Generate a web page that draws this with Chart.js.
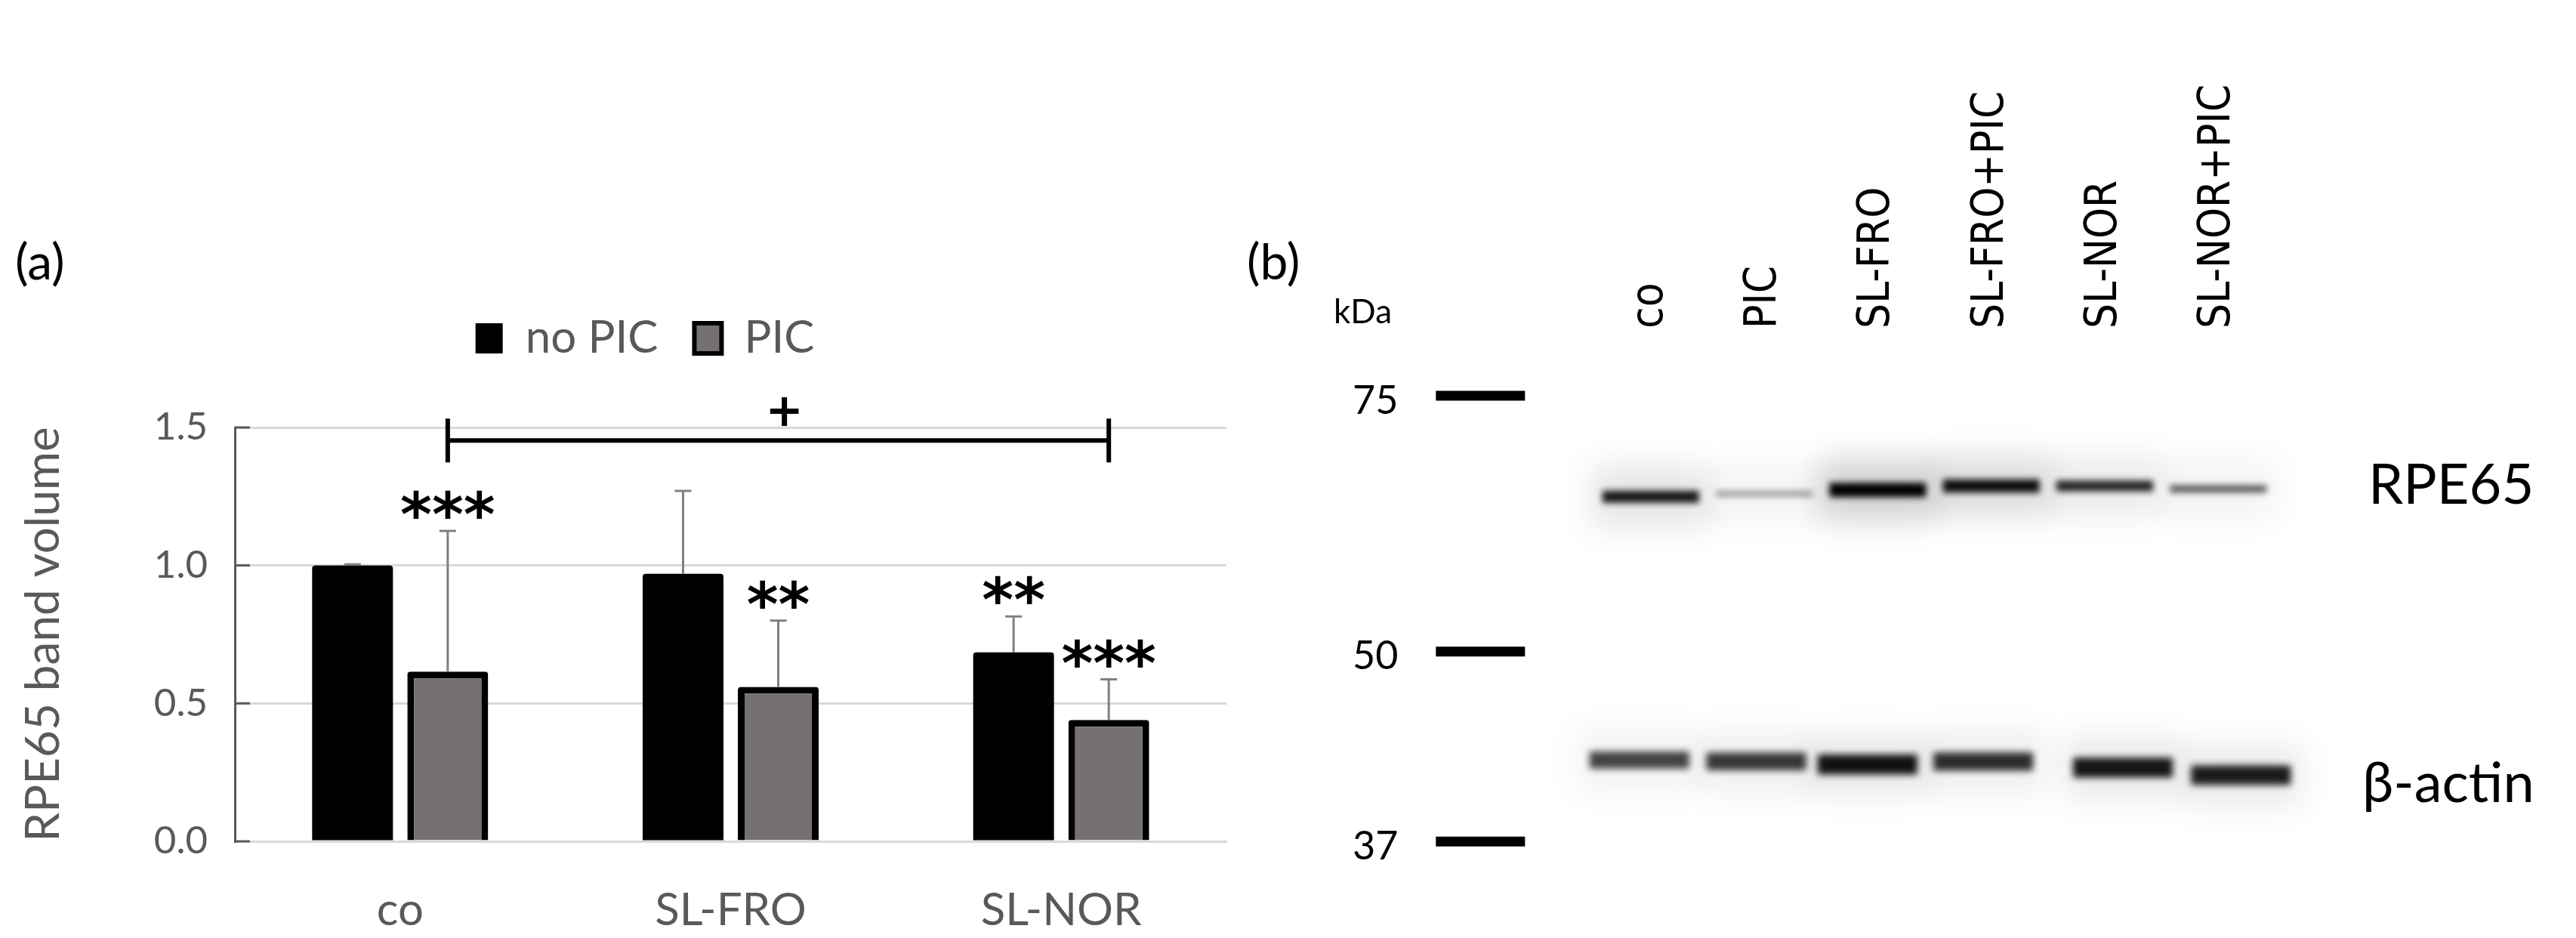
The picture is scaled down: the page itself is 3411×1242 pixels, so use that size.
<!DOCTYPE html>
<html>
<head>
<meta charset="utf-8">
<script src="https://cdn.jsdelivr.net/npm/chart.js@4.4.1/dist/chart.umd.min.js"></script>
<style>
  html, body { margin: 0; padding: 0; background: #fff; }
  body { width: 3411px; height: 1242px; position: relative; overflow: hidden; font-family: Lato, sans-serif; }
  .wrap { position: absolute; top: 0; height: 1242px; }
  .lbl { position: absolute; line-height: 1; white-space: nowrap; color: #000; }
</style>
</head>
<body>
<div class="wrap" style="left:0;width:1700px"><canvas id="chartA"></canvas></div>
<div class="wrap" style="left:1700px;width:1711px"><canvas id="chartB"></canvas></div>

<div class="lbl" style="left:20px;top:312px;font-size:66px">(a)</div>
<div class="lbl" style="left:1651px;top:312px;font-size:66px">(b)</div>
<div class="lbl" style="left:1766px;top:389px;font-size:44px">kDa</div>
<div class="lbl" style="left:3136px;top:602px;font-size:74px">RPE65</div>
<div class="lbl" style="left:3128px;top:997px;font-size:74px">β-actin</div>

<script>
// (a) band volume, mean and upper SD
var groups = ['co', 'SL-FRO', 'SL-NOR'];
var noPic = [1.0, 0.97, 0.685];
var noPicSd = [0.004, 0.30, 0.13];
var pic = [0.615, 0.56, 0.44];
var picSd = [0.51, 0.24, 0.147];
var noPicSig = ['', '', '**'];
var picSig = ['***', '**', '***'];
var yTicks = [0, 0.5, 1.0, 1.5];
var bracketLevel = 1.453;

// (b) blot
var lanes = ['co', 'PIC', 'SL-FRO', 'SL-FRO+PIC', 'SL-NOR', 'SL-NOR+PIC'];
var lanePos = [0, 1, 2, 3, 4, 5];
var rpeKda = [63.9, 64.2, 64.6, 65.0, 65.0, 64.7];
var rpeDensity = [0.9, 0.45, 1.0, 0.95, 0.85, 0.65];
var actinPos = [-0.1, 0.93, 1.91, 2.93, 4.16, 5.2];
var actinKda = [42.1, 42.0, 41.8, 42.0, 41.6, 41.1];
var actinDensity = [0.7, 0.75, 0.92, 0.8, 0.9, 0.88];
var markerKda = [75, 50, 37];
var ladderPos = -1.5;

var laneFontSize = 58;

function rows(xs, ys) {
    return xs.map(function(x, i) { return {x: x, y: ys[i]}; });
}

var annotPlugin = {
    id: 'annot',
    afterDatasetsDraw: function(chart) {
        var ctx = chart.ctx;
        var y = chart.scales.y;
        var area = chart.chartArea;
        ctx.save();
        // little inside tick marks on the value axis
        ctx.strokeStyle = '#595959';
        ctx.lineWidth = 3;
        y.ticks.forEach(function(t) {
            var py = y.getPixelForValue(t.value);
            ctx.beginPath();
            ctx.moveTo(area.left, py);
            ctx.lineTo(area.left + 20, py);
            ctx.stroke();
        });
        chart.data.datasets.forEach(function(ds, i) {
            var meta = chart.getDatasetMeta(i);
            meta.data.forEach(function(bar, j) {
                var top = y.getPixelForValue(ds.data[j] + ds.sd[j]);
                ctx.strokeStyle = '#808080';
                ctx.lineWidth = 3;
                ctx.beginPath();
                ctx.moveTo(bar.x, bar.y);
                ctx.lineTo(bar.x, top);
                ctx.moveTo(bar.x - 11, top);
                ctx.lineTo(bar.x + 11, top);
                ctx.stroke();
                if (ds.sig[j]) {
                    var cy = y.getPixelForValue(ds.data[j] + ds.sd[j] + 0.115);
                    ctx.fillStyle = '#000';
                    ctx.font = 'bold 80px "DejaVu Sans"';
                    ctx.textAlign = 'center';
                    ctx.textBaseline = 'alphabetic';
                    ctx.fillText(ds.sig[j], bar.x, cy + 48);
                }
            });
        });
        // bracket co+PIC .. SL-NOR+PIC
        var m = chart.getDatasetMeta(1);
        var x1 = m.data[0].x, x2 = m.data[2].x;
        var by = y.getPixelForValue(bracketLevel);
        ctx.strokeStyle = '#000';
        ctx.lineWidth = 6;
        ctx.beginPath();
        ctx.moveTo(x1, by); ctx.lineTo(x2, by);
        ctx.moveTo(x1, by - 29); ctx.lineTo(x1, by + 29);
        ctx.moveTo(x2, by - 29); ctx.lineTo(x2, by + 29);
        ctx.stroke();
        ctx.fillStyle = '#000';
        ctx.font = 'bold 60px "DejaVu Sans"';
        ctx.textAlign = 'center';
        ctx.textBaseline = 'alphabetic';
        ctx.fillText('+', (x1 + x2) / 2 + 8, by - 41 + 22);
        ctx.restore();
    }
};

new Chart(document.getElementById('chartA'), {
    type: 'bar',
    data: {
        labels: groups,
        datasets: [{
            label: 'no PIC',
            data: noPic,
            sd: noPicSd,
            sig: noPicSig,
            xAxisID: 'x',
            backgroundColor: '#000',
            borderColor: '#000',
            borderWidth: 0,
            borderRadius: 4
        }, {
            label: 'PIC',
            data: pic,
            sd: picSd,
            sig: picSig,
            xAxisID: 'x',
            backgroundColor: '#767171',
            borderColor: '#000',
            borderWidth: 9,
            borderRadius: 4
        }]
    },
    options: {
        responsive: true,
        maintainAspectRatio: false,
        animation: false,
        categoryPercentage: 0.576,
        barPercentage: 0.849,
        layout: { padding: { left: 84, right: 76, top: 370, bottom: 0 }, autoPadding: false },
        plugins: {
            legend: {
                position: 'top',
                labels: {
                    font: { family: 'Lato', size: 60 },
                    color: '#595959',
                    boxWidth: 36,
                    boxHeight: 40,
                    padding: 48,
                    generateLabels: function(chart) {
                        var items = Chart.defaults.plugins.legend.labels.generateLabels(chart);
                        items.forEach(function(it) { if (it.lineWidth) it.lineWidth = 6; });
                        return items;
                    }
                }
            },
            tooltip: { enabled: false }
        },
        scales: {
            x: {
                grid: { display: false },
                border: { display: true, color: '#d9d9d9', width: 3 },
                ticks: { font: { family: 'Lato', size: 60 }, color: '#595959', padding: 48 },
                afterFit: function(s) { s.height = 128; }
            },
            y: {
                min: 0,
                max: 1.5,
                afterBuildTicks: function(s) { s.ticks = yTicks.map(function(v) { return {value: v}; }); },
                ticks: {
                    font: { family: 'Lato', size: 51 },
                    color: '#595959',
                    padding: 36,
                    callback: function(v) { return v.toFixed(1); }
                },
                grid: { color: '#d9d9d9', lineWidth: 3, drawTicks: false },
                border: { display: true, color: '#595959', width: 3 },
                title: {
                    display: true,
                    text: 'RPE65 band volume',
                    font: { family: 'Lato', size: 62 },
                    color: '#595959',
                    padding: { top: -63, bottom: 0 }
                },
                afterFit: function(s) { s.width = 227; }
            },
            spacer: {
                type: 'linear',
                axis: 'x',
                position: 'top',
                display: true,
                grid: { display: false },
                border: { display: false },
                ticks: { display: false },
                afterFit: function(s) { s.height = 78; }
            }
        }
    },
    plugins: [annotPlugin]
});

var blotPlugin = {
    id: 'blot',
    beforeDatasetDraw: function(chart, args) {
        var ds = chart.data.datasets[args.index];
        chart.ctx.save();
        if (ds.blur) chart.ctx.filter = 'blur(' + ds.blur + 'px)';
    },
    afterDatasetDraw: function(chart) {
        chart.ctx.restore();
    },
    afterDatasetsDraw: function(chart) {
        var ctx = chart.ctx;
        var meta = chart.getDatasetMeta(4);
        ctx.save();
        ctx.fillStyle = '#000';
        ctx.font = '52px Lato';
        ctx.textAlign = 'right';
        ctx.textBaseline = 'middle';
        meta.data.forEach(function(p, j) {
            ctx.fillText(String(markerKda[j]), p.x - 59 - 50, p.y + 7);
        });
        ctx.restore();
    }
};

new Chart(document.getElementById('chartB'), {
    type: 'scatter',
    data: {
        datasets: [{
            label: 'RPE65 haze',
            data: rows(lanePos, rpeKda),
            pointStyle: 'line',
            pointRadius: 78,
            pointBorderWidth: 80,
            pointBorderColor: rpeDensity.map(function(d) { return 'rgba(0,0,0,' + (0.04 + 0.14 * Math.pow(d, 8)) + ')'; }),
            blur: 20
        }, {
            label: 'RPE65',
            data: rows(lanePos, rpeKda),
            pointStyle: 'line',
            pointRadius: 64,
            pointBorderWidth: rpeDensity.map(function(d) { return 3 + 16 * d * d; }),
            pointBorderColor: rpeDensity.map(function(d) { return 'rgba(0,0,0,' + d + ')'; }),
            blur: 4
        }, {
            label: 'actin haze',
            data: rows(actinPos, actinKda),
            pointStyle: 'line',
            pointRadius: 80,
            pointBorderWidth: 80,
            pointBorderColor: actinDensity.map(function(d) { return 'rgba(0,0,0,' + (0.04 + 0.07 * Math.pow(d, 4)) + ')'; }),
            blur: 20
        }, {
            label: 'β-actin',
            data: rows(actinPos, actinKda),
            pointStyle: 'line',
            pointRadius: 66,
            pointBorderWidth: actinDensity.map(function(d) { return 10 + 18 * d; }),
            pointBorderColor: actinDensity.map(function(d) { return 'rgba(0,0,0,' + (0.1 + 0.9 * d) + ')'; }),
            blur: 5
        }, {
            label: 'ladder',
            data: markerKda.map(function(k) { return {x: ladderPos, y: k}; }),
            pointStyle: 'line',
            pointRadius: 59,
            pointBorderWidth: 13,
            pointBorderColor: '#000'
        }]
    },
    options: {
        responsive: true,
        maintainAspectRatio: false,
        animation: false,
        layout: { padding: { left: 110, right: 98, top: 0, bottom: 62 }, autoPadding: false },
        plugins: { legend: { display: false }, tooltip: { enabled: false } },
        scales: {
            x: {
                type: 'linear',
                position: 'top',
                min: -2.5,
                max: 7.5,
                grid: { display: false },
                border: { display: false },
                afterBuildTicks: function(s) { s.ticks = lanePos.map(function(v) { return {value: v}; }); },
                ticks: {
                    autoSkip: false,
                    minRotation: 90,
                    maxRotation: 90,
                    padding: 27,
                    labelOffset: laneFontSize * 1.2,
                    font: { family: '"DejaVu Sans Condensed", "Liberation Sans Narrow", Lato', size: laneFontSize },
                    color: '#000',
                    callback: function(v) { return lanes[lanePos.indexOf(v)]; }
                },
                afterFit: function(s) { s.height = 470; }
            },
            y: { type: 'logarithmic', min: 34.2, max: 80, display: false }
        }
    },
    plugins: [blotPlugin]
});
</script>
</body>
</html>
